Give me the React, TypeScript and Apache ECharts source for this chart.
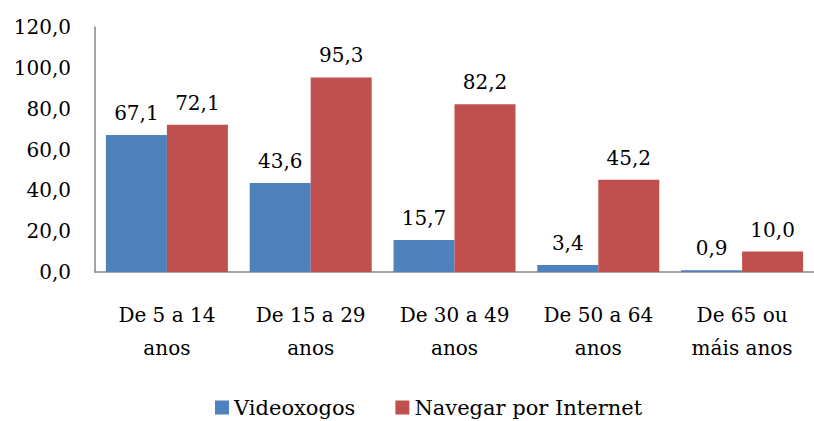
import React, { useEffect, useRef } from "react";
import * as echarts from "echarts";

const categories = ["De 5 a 14\nanos", "De 15 a 29\nanos", "De 30 a 49\nanos", "De 50 a 64\nanos", "De 65 ou\nmáis anos"];
const videoxogos = [67.1, 43.6, 15.7, 3.4, 0.9];
const navegar = [72.1, 95.3, 82.2, 45.2, 10.0];
const seriesNames = ["Videoxogos", "Navegar por Internet"];

const fmt = (v: number) => v.toFixed(1).replace(".", ",");
const FONT = "DejaVu Serif";
const FS = 20;

export default function App() {
  const ref = useRef<HTMLDivElement>(null);
  useEffect(() => {
    const chart = echarts.init(ref.current!, undefined, { renderer: "svg" });
    chart.setOption({
      animation: false,
      textStyle: { fontFamily: FONT },
      grid: { left: 95, top: 27, width: 732, height: 245 },
      legend: {
        bottom: -2,
        left: 210,
        itemWidth: 14,
        itemHeight: 14,
        itemGap: 40,
        icon: "rect",
        textStyle: { fontFamily: FONT, fontSize: 21, color: "#000" },
        data: seriesNames,
      },
      xAxis: {
        type: "category",
        data: categories,
        axisLine: { lineStyle: { color: "#868686", width: 1.5 } },
        axisTick: { show: false },
        axisLabel: { interval: 0, fontFamily: FONT, fontSize: FS, color: "#000", lineHeight: 33, margin: 26 },
      },
      yAxis: {
        type: "value",
        min: 0,
        max: 120,
        interval: 20,
        splitLine: { show: false },
        axisLine: { show: true, lineStyle: { color: "#868686", width: 1.5 } },
        axisTick: { show: false },
        axisLabel: { fontFamily: FONT, fontSize: FS, color: "#000", margin: 24, formatter: (v: number) => fmt(v) },
      },
      series: [
        {
          name: seriesNames[0],
          type: "bar",
          data: videoxogos,
          barWidth: 61,
          barGap: "0%",
          itemStyle: { color: "#4F81BD" },
          label: { show: true, position: "top", distance: 12, fontFamily: FONT, fontSize: FS, color: "#000", formatter: (p: any) => fmt(p.value) },
        },
        {
          name: seriesNames[1],
          type: "bar",
          data: navegar,
          barWidth: 61,
          barGap: "0%",
          itemStyle: { color: "#C0504D" },
          label: { show: true, position: "top", distance: 12, fontFamily: FONT, fontSize: FS, color: "#000", formatter: (p: any) => fmt(p.value) },
        },
      ],
    });
    return () => chart.dispose();
  }, []);
  return <div ref={ref} style={{ position: "fixed", left: 0, top: 0, width: 814, height: 421, background: "#fff" }} />;
}
